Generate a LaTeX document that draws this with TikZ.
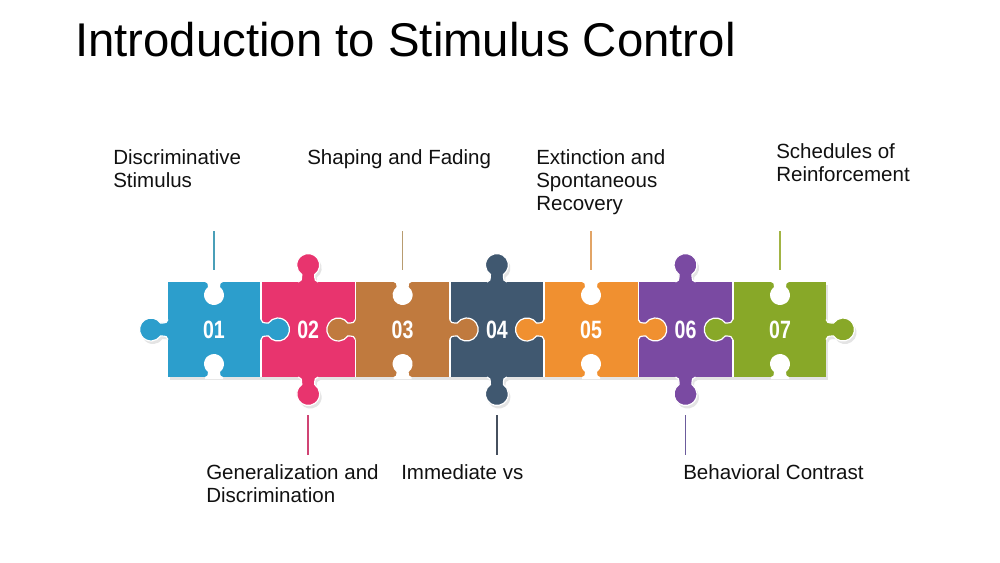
\documentclass[tikz,border=0pt]{standalone}
\usepackage{fontspec}
\setmainfont{Liberation Sans}
\newfontfamily\numfont[FakeStretch=0.78]{Liberation Sans}
\definecolor{cA}{HTML}{2C9ECC}
\definecolor{cB}{HTML}{E8346E}
\definecolor{cC}{HTML}{C07A3E}
\definecolor{cD}{HTML}{405870}
\definecolor{cE}{HTML}{F09030}
\definecolor{cF}{HTML}{7A4AA2}
\definecolor{cG}{HTML}{88A828}
\definecolor{lA}{HTML}{4A9FB8}
\definecolor{lB}{HTML}{D04474}
\definecolor{lC}{HTML}{B89C70}
\definecolor{lD}{HTML}{46505E}
\definecolor{lE}{HTML}{E2A466}
\definecolor{lF}{HTML}{6C5C9C}
\definecolor{lG}{HTML}{A2B444}
\definecolor{txt}{HTML}{111111}
\definecolor{shad}{HTML}{E4E4E4}
\tikzset{
  pics/knobfill/.style={code={
    \fill[#1] (-10,-1.5) -- (-10,0) .. controls (-7,0) and (-6.5,2.5) .. (-6.5,7.5) arc[start angle=235.6, end angle=-55.6, radius=11.5] .. controls (6.5,2.5) and (7,0) .. (10,0) -- (10,-1.5) -- cycle;
  }},
  pics/knob/.style={code={
    \fill[#1] (-10,-1.5) -- (-10,0) .. controls (-7,0) and (-6.5,2.5) .. (-6.5,7.5) arc[start angle=235.6, end angle=-55.6, radius=11.5] .. controls (6.5,2.5) and (7,0) .. (10,0) -- (10,-1.5) -- cycle;
    \draw[white, line width=0.9pt] (-10,0) .. controls (-7,0) and (-6.5,2.5) .. (-6.5,7.5) arc[start angle=235.6, end angle=-55.6, radius=11.5] .. controls (6.5,2.5) and (7,0) .. (10,0);
  }},
  pics/socket/.style={code={
    \fill[white] (-9,-2) -- (-9,0) .. controls (-6.5,0) and (-6,2) .. (-6,5) arc[start angle=233.13, end angle=-53.13, radius=10] .. controls (6,2) and (6.5,0) .. (9,0) -- (9,-2) -- cycle;
  }},
  lbl/.style={anchor=base west, inner sep=0pt, text=txt, font=\fontsize{15.4}{17.5}\selectfont},
  num/.style={inner sep=0pt, text=white, font=\numfont\bfseries\fontsize{18.8}{20}\selectfont},
  conn/.style={line width=1.1pt},
  gap/.style={white, line width=1.2pt}
}
\begin{document}
\begin{tikzpicture}[x=0.75pt, y=-0.75pt]
\useasboundingbox (0,0) rectangle (1000,562);
\fill[white] (0,0) rectangle (1000,562);
% title
\node[anchor=base west, inner sep=0pt, text=black, font=\fontsize{35.5}{42}\selectfont] (title) at (75,56) {Introduction to Stimulus Control};
% soft shadow
\begin{scope}[shift={(2,3)}]
\fill[shad] (168,282) rectangle (826,377);
\pic[rotate=-90] at (168,329.5) {knobfill=shad};
\pic[rotate=90] at (826,329.5) {knobfill=shad};
\foreach \c in {308.2,496.9,685.5}{
  \pic[rotate=180] at (\c,282) {knobfill=shad};
  \pic at (\c,377) {knobfill=shad};
}
\end{scope}
% piece bodies
\fill[cA] (168,282) rectangle (261,377);
\fill[cB] (261,282) rectangle (355.3,377);
\fill[cC] (355.3,282) rectangle (449.7,377);
\fill[cD] (449.7,282) rectangle (544,377);
\fill[cE] (544,282) rectangle (638.3,377);
\fill[cF] (638.3,282) rectangle (732.7,377);
\fill[cG] (732.7,282) rectangle (826,377);
% gaps between pieces
\foreach \b in {261,355.3,449.7,544,638.3,732.7}
  \draw[gap] (\b,282) -- (\b,377);
% outer sockets (odd pieces)
\foreach \c in {214,402.6,591,780}{
  \pic at (\c,282) {socket};
  \pic[rotate=180] at (\c,377) {socket};
}
% knobs of odd pieces (left / right)
\pic[rotate=-90] at (168,329.5) {knob=cA};
\pic[rotate=90] at (261,329.5) {knob=cA};
\pic[rotate=-90] at (355.3,329.5) {knob=cC};
\pic[rotate=90] at (449.7,329.5) {knob=cC};
\pic[rotate=-90] at (544,329.5) {knob=cE};
\pic[rotate=90] at (638.3,329.5) {knob=cE};
\pic[rotate=-90] at (732.7,329.5) {knob=cG};
\pic[rotate=90] at (826,329.5) {knob=cG};
% knobs of even pieces (top / bottom)
\pic[rotate=180] at (308.2,282) {knob=cB};
\pic at (308.2,377) {knob=cB};
\pic[rotate=180] at (496.9,282) {knob=cD};
\pic at (496.9,377) {knob=cD};
\pic[rotate=180] at (685.5,282) {knob=cF};
\pic at (685.5,377) {knob=cF};
% numbers
\node[num] (n1) at (214,330) {01};
\node[num] (n2) at (308.2,330) {02};
\node[num] (n3) at (402.6,330) {03};
\node[num] (n4) at (496.9,330) {04};
\node[num] (n5) at (591,330) {05};
\node[num] (n6) at (685.5,330) {06};
\node[num] (n7) at (780,330) {07};
% connector end points
\coordinate (t1a) at (214,231);   \coordinate (t1b) at (214,270);
\coordinate (t3a) at (402.6,231); \coordinate (t3b) at (402.6,270);
\coordinate (t5a) at (591,231);   \coordinate (t5b) at (591,270);
\coordinate (t7a) at (780,231);   \coordinate (t7b) at (780,270);
\coordinate (b2a) at (308.2,415); \coordinate (b2b) at (308.2,455);
\coordinate (b4a) at (496.9,415); \coordinate (b4b) at (496.9,455);
\coordinate (b6a) at (685.5,415); \coordinate (b6b) at (685.5,455);
\draw[conn, lA] (t1a) -- (t1b);
\draw[conn, lC] (t3a) -- (t3b);
\draw[conn, lE] (t5a) -- (t5b);
\draw[conn, lG] (t7a) -- (t7b);
\draw[conn, lB] (b2a) -- (b2b);
\draw[conn, lD] (b4a) -- (b4b);
\draw[conn, lF] (b6a) -- (b6b);
% labels
\node[lbl] (L1) at (113,164) {\begin{tabular}[t]{@{}l@{}}Discriminative\\Stimulus\end{tabular}};
\node[lbl] (L3) at (307,164) {Shaping and Fading};
\node[lbl] (L5) at (536,164) {\begin{tabular}[t]{@{}l@{}}Extinction and\\Spontaneous\\Recovery\end{tabular}};
\node[lbl] (L7) at (776,158.5) {\begin{tabular}[t]{@{}l@{}}Schedules of\\Reinforcement\end{tabular}};
\node[lbl] (L2) at (206,479) {\begin{tabular}[t]{@{}l@{}}Generalization and\\Discrimination\end{tabular}};
\node[lbl] (L4) at (401,479) {Immediate vs};
\node[lbl] (L6) at (683,479) {Behavioral Contrast};
\end{tikzpicture}
\end{document}
